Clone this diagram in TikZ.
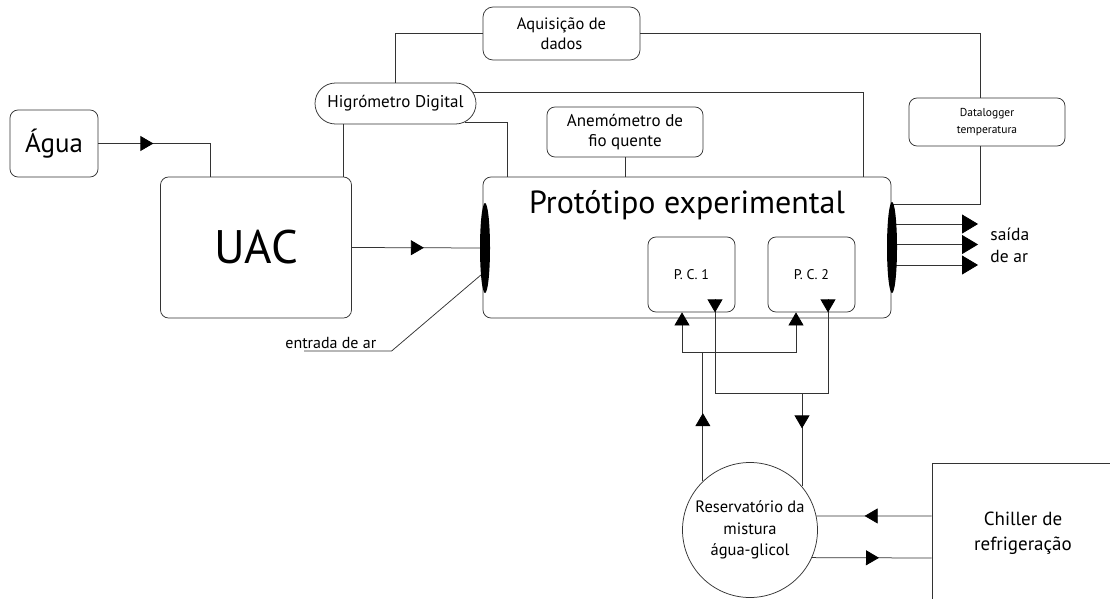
\documentclass[tikz,border=0pt]{standalone}
\usepackage{fontspec}
\setmainfont{PT Sans}
\usetikzlibrary{arrows.meta,decorations.markings,shapes.geometric,shapes.misc}
\newcommand{\fs}[2]{\fontsize{#1}{#2}\selectfont}
\begin{document}
\begin{tikzpicture}[x=1pt,y=-1pt,line width=0.75pt,
    wire/.style={draw=black!80},
    box/.style={wire,rounded corners=8pt,inner sep=0pt,align=center},
    pill/.style={wire,rounded rectangle,inner sep=0pt,align=center},
    tri/.style={wire,-{Triangle[length=13pt,width=15pt,color=black]}},
    big/.style={wire,-{Triangle[length=16pt,width=19pt,color=black]}},
    midarrow/.style={wire,postaction={decorate},decoration={markings,
        mark=at position #1 with {\arrow{Triangle[length=13pt,width=15pt,color=black]}}}},
    hole/.style={ellipse,fill=black,inner sep=0pt,minimum width=10pt,minimum height=90pt}]
\useasboundingbox (0,0) rectangle (1110,599);
\node[box,minimum width=88pt,minimum height=67pt,font=\fs{27}{30}] (agua) at (54,143.5) {Água};
\node[box,minimum width=191pt,minimum height=141pt,font=\fs{47}{50}] (uac) at (256,247.5) {UAC};
\node[pill,minimum width=161pt,minimum height=41pt,font=\fs{17}{19}] (higro) at (395.5,103.5) {Higrómetro Digital};
\node[box,rounded corners=10pt,minimum width=157pt,minimum height=53pt,font=\fs{16.5}{20}] (aquis) at (561.5,33.5) {Aquisição de\\dados};
\node[box,minimum width=156pt,minimum height=50pt,font=\fs{17}{20}] (anemo) at (625,132) {Anemómetro de\\fio quente};
\node[box,minimum width=156pt,minimum height=48pt,font=\fs{11.5}{16.5}] (datalog) at (987,122) {Datalogger\\temperatura};
\node[box,minimum width=408pt,minimum height=141pt,
    label={[anchor=north,inner sep=0pt,yshift=-13pt,font=\fs{32}{34}]north:Protótipo experimental}] (proto) at (687,247.5) {};
\node[box,minimum width=87pt,minimum height=75pt,font=\fs{14}{16}] (pc1) at (691.5,274.5) {P. C. 1};
\node[box,minimum width=87pt,minimum height=75pt,font=\fs{14}{16}] (pc2) at (811.5,274.5) {P. C. 2};
\node[wire,circle,minimum size=135pt,inner sep=0pt,align=center,font=\fs{16.5}{21.5}] (res) at (750,530) {Reservatório da\\mistura\\água-glicol};
\node[wire,minimum width=182pt,minimum height=140pt,align=center,font=\fs{19}{25}] (chiller) at (1023,533) {Chiller de\\refrigeração};
\node[inner sep=0pt,anchor=base west,font=\fs{16}{18}] (entrada) at (285,348) {entrada de ar};
\node[inner sep=0pt,anchor=west,align=left,font=\fs{17.5}{22}] (saida) at (990,245) {saída\\de ar};
\coordinate (hg) at ([xshift=-52.5pt]higro.south);
\path (res.134 |- pc1.south) ++(0,40) coordinate (sup);
\path (res.40 |- pc1.south) ++(0,81) coordinate (ret);
\draw[midarrow=55pt] (agua.east) -| ([xshift=50pt]uac.north west);
\draw[midarrow=72pt] (uac.east) -- (485,248);
\draw[wire] (hg) -- (hg |- uac.north);
\draw[wire] (higro.north) |- (aquis.west);
\draw[wire] (aquis.east) -| ([xshift=-7pt]datalog.north);
\draw[wire] ([xshift=-7pt]datalog.south) |- ([yshift=-28pt]proto.north east);
\draw[wire] (higro.8) -| ([xshift=-28pt]proto.north east);
\draw[wire] (higro.-15) -| ([xshift=25pt]proto.north west);
\draw[wire] (anemo.south) -- (anemo.south |- proto.north);
\foreach \d in {-23.5,-3,17.5}
    \draw[big,shorten >=12pt] (892,247.5) ++(0,\d) coordinate (o) -- (o -| saida.west);
\node[hole] (entL) at (485,248) {};
\node[hole,minimum height=91pt] (exitR) at (892,247.5) {};
\draw[wire] ([xshift=19pt,yshift=-3pt]entrada.base west) -- ([xshift=15pt,yshift=-3pt]entrada.base east) -- (entL.261);
\draw[midarrow=68pt] (res.134) -- (sup);
\draw[tri] (sup) -| ([xshift=-9.5pt]pc1.south);
\draw[tri] (sup) -| ([xshift=-15.5pt]pc2.south);
\draw[midarrow=13pt] ([xshift=23.5pt,yshift=13pt]pc1.south) |- (ret);
\draw[midarrow=13pt] ([xshift=16.5pt,yshift=13pt]pc2.south) |- (ret);
\draw[midarrow=35pt] (ret) -- (res.40);
\draw[midarrow=67pt] ([yshift=17pt]chiller.west) -- (res.12);
\draw[midarrow=67pt] (res.-24.5) -- ([yshift=-25pt]chiller.west);
\end{tikzpicture}
\end{document}
